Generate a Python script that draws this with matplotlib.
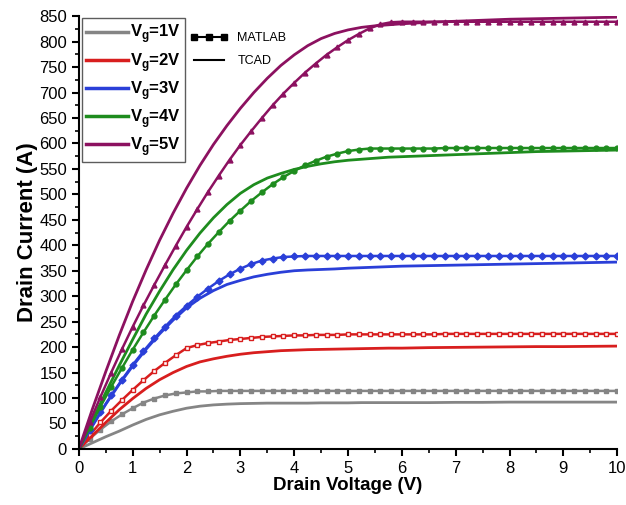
import numpy as np
import matplotlib
matplotlib.use('Agg')
import matplotlib.pyplot as plt
from matplotlib.lines import Line2D
from matplotlib.ticker import MultipleLocator

plt.rcParams['font.family'] = ['Liberation Sans', 'DejaVu Sans']
plt.rcParams['mathtext.fontset'] = 'custom'
plt.rcParams['mathtext.rm'] = 'Liberation Sans:bold'
plt.rcParams['mathtext.bf'] = 'Liberation Sans:bold'

# drain voltage grids
vd_matlab = np.linspace(0, 10, 51)
vd_tcad = [0, 0.25, 0.5, 0.75, 1.0, 1.25, 1.5, 1.75, 2.0, 2.25, 2.5, 2.75, 3.0,
           3.25, 3.5, 3.75, 4.0, 4.25, 4.5, 4.75, 5.0, 5.25, 5.5, 5.75, 6.0,
           6.5, 7.0, 7.5, 8.0, 8.5, 9.0, 9.5, 10.0]

labels = ['1V', '2V', '3V', '4V', '5V']
colors = ['#858585', '#d81e1e', '#2a3fd8', '#1e8c1e', '#8c1160']

# MATLAB model (markers), step 0.2 V
matlab_vg1 = [0, 20, 38, 54, 68, 80, 91, 99, 105, 109, 111, 113, 113, 114, 114, 114, 114,
              114, 114, 114, 114, 114, 114, 114, 114, 114, 114, 114, 114, 114, 114, 114,
              114, 114, 114, 114, 114, 114, 114, 114, 114, 114, 114, 114, 114, 114, 114,
              114, 114, 114, 114]
matlab_vg2 = [0, 27, 52, 75, 96, 116, 135, 153, 169, 184, 198, 204, 208, 211, 214, 216, 218,
              220, 221, 222, 223, 223, 224, 224, 224, 225, 225, 225, 225, 225, 225, 225,
              225, 225, 226, 226, 226, 226, 226, 226, 226, 226, 226, 226, 226, 226, 226,
              226, 226, 226, 226]
matlab_vg3 = [0, 37, 72, 105, 136, 165, 192, 217, 240, 262, 281, 299, 315, 330, 343, 354, 363,
              370, 374, 377, 378, 379, 379, 379, 379, 379, 379, 379, 379, 379, 379, 379,
              379, 379, 379, 379, 379, 379, 379, 379, 379, 379, 379, 379, 379, 379, 379,
              379, 379, 379, 379]
matlab_vg4 = [0, 42, 83, 122, 159, 195, 229, 262, 293, 323, 351, 378, 403, 426, 448, 468, 487,
              504, 520, 534, 546, 557, 566, 574, 580, 585, 588, 590, 590, 590, 590, 590,
              590, 590, 591, 591, 591, 591, 591, 591, 591, 591, 591, 591, 591, 591, 591,
              591, 591, 591, 591]
matlab_vg5 = [0, 52, 102, 150, 196, 240, 282, 322, 361, 399, 436, 471, 505, 537, 568, 597, 624,
              650, 675, 698, 719, 739, 757, 774, 789, 803, 815, 826, 834, 838, 839, 839,
              839, 839, 839, 839, 839, 839, 839, 839, 839, 839, 839, 839, 839, 839, 839,
              839, 839, 839, 839]

# TCAD simulation (solid lines)
tcad_vg1 = [0, 12, 24, 35, 47, 58, 67, 74, 80, 84, 86.5, 88, 89, 89.5, 90, 90, 90, 90,
            90.5, 90.5, 90.5, 91, 91, 91, 91, 91, 91.5, 91.5, 92, 92, 92, 92, 92]
tcad_vg2 = [0, 26, 52, 77, 99, 119, 136, 150, 162, 171, 177, 182, 186, 189, 191, 193, 194,
            195, 195.5, 196, 196.5, 197, 197.5, 198, 198, 199, 199.5, 200, 200.5, 201, 201,
            201.5, 202]
tcad_vg3 = [0, 45, 88, 127, 163, 196, 226, 253, 277, 296, 311, 323, 331, 338, 343, 347, 350,
            351.5, 352.5, 353.5, 355, 356, 357, 358, 359, 360, 361, 362, 363, 364, 365, 366, 367]
tcad_vg4 = [0, 56, 111, 164, 215, 265, 310, 352, 390, 424, 454, 480, 502, 519, 532, 541, 549,
            555, 560, 564, 567, 569, 571, 573, 574, 576, 578, 580, 582, 584, 585, 586, 587]
tcad_vg5 = [0, 78, 152, 223, 290, 352, 410, 463, 512, 557, 598, 635, 669, 700, 728, 753, 774,
            792, 806, 816, 823, 828, 831, 833, 835, 838, 840, 842, 844, 845, 846, 847, 848]

matlab = [matlab_vg1, matlab_vg2, matlab_vg3, matlab_vg4, matlab_vg5]
tcad = [tcad_vg1, tcad_vg2, tcad_vg3, tcad_vg4, tcad_vg5]
markers = ['s', 's', 'D', 'o', '^']
facecols = ['#858585', 'white', '#2a3fd8', '#1e8c1e', '#8c1160']

fig = plt.figure(figsize=(6.26, 5.05), dpi=100)
ax = fig.add_axes([0.126, 0.111, 0.86, 0.857])

for i in range(5):
    ax.plot(vd_matlab, matlab[i], color=colors[i], lw=1.8, marker=markers[i],
            markersize=3.5, markerfacecolor=facecols[i], markeredgecolor=colors[i],
            markeredgewidth=1)
    ax.plot(vd_tcad, tcad[i], color=colors[i], lw=2.0)

ax.set_xlim(0, 10)
ax.set_ylim(0, 850)
ax.xaxis.set_major_locator(MultipleLocator(1))
ax.xaxis.set_minor_locator(MultipleLocator(0.5))
ax.yaxis.set_major_locator(MultipleLocator(50))
ax.yaxis.set_minor_locator(MultipleLocator(25))
for s in ['top', 'right']:
    ax.spines[s].set_visible(False)
for s in ['left', 'bottom']:
    ax.spines[s].set_linewidth(1.5)
ax.tick_params(which='major', direction='out', length=5, width=1.5, labelsize=12)
ax.tick_params(which='minor', direction='out', length=3, width=1.2)
ax.set_xlabel('Drain Voltage (V)', fontsize=13.5, fontweight='bold', labelpad=1)
ax.set_ylabel('Drain Current (A)', fontsize=16, fontweight='bold', labelpad=1)

handles = [Line2D([], [], color=c, lw=2.5) for c in colors]
leg1 = ax.legend(handles, ['V$_\\mathregular{g}$=' + l for l in labels],
                 loc='upper left', bbox_to_anchor=(0.006, 0.995), frameon=True,
                 fancybox=False, edgecolor='#333333', handlelength=2.5,
                 handletextpad=0.1, labelspacing=0.32, borderpad=0.25,
                 borderaxespad=0.0, prop={'size': 12, 'weight': 'bold'})
leg1.get_frame().set_linewidth(1.0)
ax.add_artist(leg1)

h2 = [Line2D([], [], color='black', lw=1.5, marker='s', markersize=4),
      Line2D([], [], color='black', lw=1.5)]
ax.legend(h2, ['MATLAB', 'TCAD'], loc='upper left', bbox_to_anchor=(0.197, 0.975),
          frameon=False, numpoints=3, handlelength=3.0, handletextpad=0.8,
          labelspacing=0.9, borderaxespad=0.0, prop={'size': 9})

fig.savefig('out.png', dpi=100)
